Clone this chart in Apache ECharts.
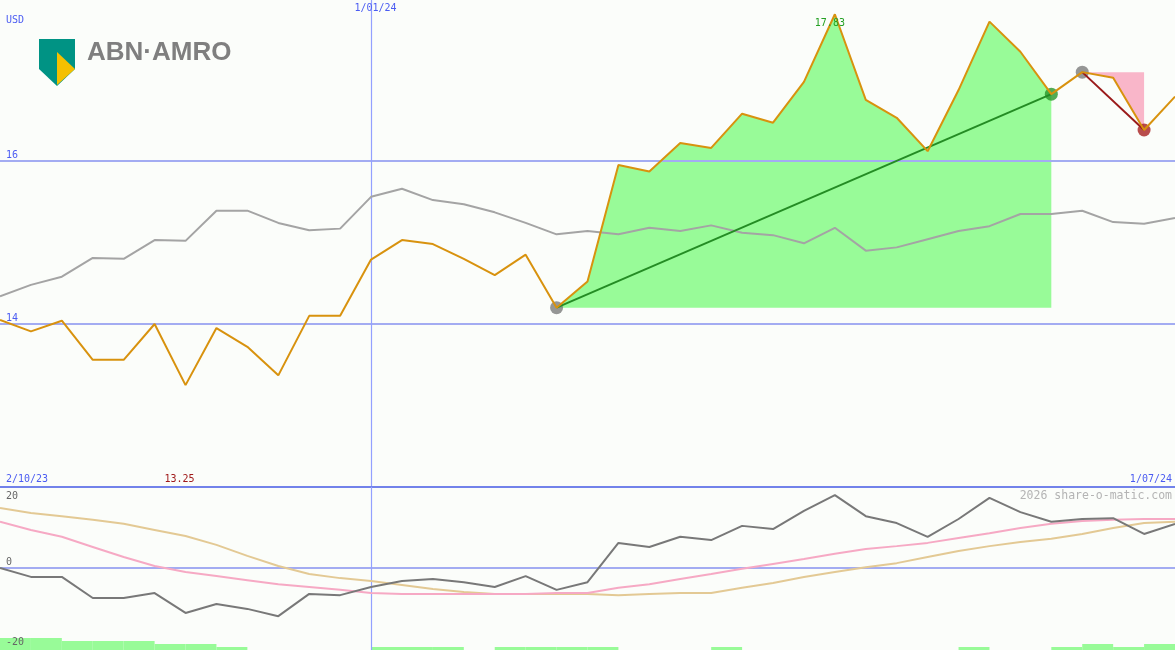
<!DOCTYPE html>
<html><head><meta charset="utf-8">
<script src="https://cdn.jsdelivr.net/npm/echarts@6.0.0/dist/echarts.min.js"></script>
<style>html,body{margin:0;padding:0;background:#fbfdfa}#c{width:1175px;height:650px}</style>
</head><body><div id="c"></div>
<script>
// ---- data (weekly points, index 0 = 2/10/23, last = 1/07/24) ----
const price = [14.05, 13.91, 14.04, 13.56, 13.56, 14.00, 13.25, 13.95, 13.72, 13.37,
  14.10, 14.10, 14.79, 15.03, 14.98, 14.80, 14.60, 14.85, 14.20, 14.52,
  15.95, 15.87, 16.22, 16.16, 16.58, 16.47, 16.97, 17.80, 16.75, 16.53,
  16.12, 16.87, 17.71, 17.34, 16.82, 17.09, 17.02, 16.38, 16.79];
const benchmark = [14.34, 14.48, 14.58, 14.81, 14.80, 15.03, 15.02, 15.39, 15.39, 15.24,
  15.15, 15.17, 15.56, 15.66, 15.52, 15.47, 15.37, 15.24, 15.10, 15.14,
  15.10, 15.18, 15.14, 15.21, 15.12, 15.09, 14.99, 15.18, 14.90, 14.94,
  15.04, 15.14, 15.20, 15.35, 15.35, 15.39, 15.25, 15.23, 15.30];
const momentum = [0, -2.2, -2.2, -7.4, -7.4, -6.2, -11.1, -8.9, -10.1, -11.9,
  -6.4, -6.7, -4.7, -3.2, -2.7, -3.5, -4.7, -2.0, -5.4, -3.5,
  6.2, 5.2, 7.7, 6.9, 10.4, 9.6, 14.1, 18.0, 12.8, 11.1,
  7.7, 12.1, 17.3, 13.8, 11.4, 12.1, 12.3, 8.4, 10.9];
const avgFast = [11.4, 9.4, 7.7, 5.2, 2.7, 0.5, -1.0, -2.0, -3.0, -4.0,
  -4.7, -5.4, -6.2, -6.4, -6.4, -6.4, -6.4, -6.4, -6.2, -6.2,
  -4.9, -4.0, -2.7, -1.5, -0.2, 1.0, 2.2, 3.5, 4.7, 5.4,
  6.2, 7.4, 8.6, 9.9, 10.9, 11.6, 11.9, 12.1, 12.1];
const avgSlow = [14.8, 13.6, 12.8, 11.9, 10.9, 9.4, 7.9, 5.7, 3.0, 0.5,
  -1.5, -2.5, -3.2, -4.2, -5.2, -5.9, -6.4, -6.4, -6.4, -6.4,
  -6.7, -6.4, -6.2, -6.2, -4.9, -3.7, -2.2, -1.0, 0.2, 1.2,
  2.7, 4.2, 5.4, 6.4, 7.2, 8.4, 9.9, 11.1, 11.4];
// one value per week interval (levels of the signal strip)
const signal = [4, 4, 3, 3, 3, 2, 2, 1, 0, 0, 0, 0, 1, 1, 1, 0, 1, 1, 1, 1,
  0, 0, 0, 1, 0, 0, 0, 0, 0, 0, 0, 1, 0, 0, 1, 2, 1, 2];
const dateLabels = ['2/10/23', '1/01/24', '1/07/24'];
const dateMarkIndex = 12;
const priceTicks = [14, 16];
const oscTicks = [20, 0, -20];
const gainRange = [18, 34];
const lossRange = [35, 37];
const highLabel = '17.83';
const lowLabel = '13.25';
const currency = 'USD';
const watermark = '2026 share-o-matic.com';

// ---- build ----
const N = price.length;
const pts = arr => arr.map((v, i) => [i, v]);
const slicePts = (arr, a, b) => arr.slice(a, b + 1).map((v, k) => [a + k, v]);
const highIdx = price.indexOf(Math.max(...price));
const lowIdx = price.indexOf(Math.min(...price));

const chart = echarts.init(document.getElementById('c'), null, {renderer: 'canvas'});
const blue = '#a3acf2';
const vBlue = '#93a0ff';
const option = {
  animation: false,
  backgroundColor: '#fbfdfa',
  grid: [
    {left: 0, right: 0, top: 0, height: 487},
    {left: 0, right: 0, top: 487, height: 163},
    {left: 0, right: 0, top: 487, height: 163}
  ],
  xAxis: [
    {type: 'value', gridIndex: 0, min: 0, max: N - 1, show: false},
    {type: 'value', gridIndex: 1, min: 0, max: N - 1, show: false},
    {type: 'category', gridIndex: 2, data: signal.map((_, i) => i), show: false, boundaryGap: true}
  ],
  yAxis: [
    {type: 'value', gridIndex: 0, min: 12, max: 17.975, show: false},
    {type: 'value', gridIndex: 1, min: -20.25, max: 20, show: false},
    {type: 'value', gridIndex: 2, min: 0, max: 54.33, show: false}
  ],
  series: [
    {type: 'bar', xAxisIndex: 2, yAxisIndex: 2, data: signal, barCategoryGap: '0%',
      itemStyle: {color: '#98fb98'}, silent: true, z: 1},
    {type: 'line', xAxisIndex: 0, yAxisIndex: 0, data: [], z: 2,
      markLine: {silent: true, symbol: 'none', label: {show: false},
        lineStyle: {color: blue, width: 2, type: 'solid'},
        data: priceTicks.map(t => ({yAxis: t}))}},
    {type: 'line', xAxisIndex: 0, yAxisIndex: 0, data: [], z: 2,
      markLine: {silent: true, symbol: 'none', label: {show: false},
        lineStyle: {color: vBlue, width: 1.2, type: 'solid'},
        data: [{xAxis: dateMarkIndex}]}},
    {type: 'line', xAxisIndex: 1, yAxisIndex: 1, data: [], z: 2,
      markLine: {silent: true, symbol: 'none', label: {show: false},
        lineStyle: {color: blue, width: 2, type: 'solid'},
        data: [{yAxis: oscTicks[1]}]}},
    {type: 'line', xAxisIndex: 1, yAxisIndex: 1, data: [], z: 2,
      markLine: {silent: true, symbol: 'none', label: {show: false},
        lineStyle: {color: '#7282ea', width: 2, type: 'solid'},
        data: [{yAxis: oscTicks[0]}]}},
    {type: 'line', xAxisIndex: 1, yAxisIndex: 1, data: [], z: 2,
      markLine: {silent: true, symbol: 'none', label: {show: false},
        lineStyle: {color: vBlue, width: 1.2, type: 'solid'},
        data: [{xAxis: dateMarkIndex}]}},
    {type: 'line', xAxisIndex: 0, yAxisIndex: 0, data: slicePts(price, gainRange[0], gainRange[1]),
      symbol: 'none', lineStyle: {width: 0}, z: 3,
      areaStyle: {color: '#98fb98', opacity: 1, origin: price[gainRange[0]]}},
    {type: 'line', xAxisIndex: 0, yAxisIndex: 0, data: slicePts(price, lossRange[0], lossRange[1]),
      symbol: 'none', lineStyle: {width: 0}, z: 3,
      areaStyle: {color: '#f9b6c9', opacity: 1, origin: price[lossRange[0]]}},
    {type: 'scatter', xAxisIndex: 0, yAxisIndex: 0, symbolSize: 13, z: 4,
      data: [
        {value: [gainRange[0], price[gainRange[0]]], itemStyle: {color: '#7c7c7c'}},
        {value: [gainRange[1], price[gainRange[1]]], itemStyle: {color: '#2a962a'}},
        {value: [lossRange[0], price[lossRange[0]]], itemStyle: {color: '#7c7c7c'}},
        {value: [lossRange[1], price[lossRange[1]]], itemStyle: {color: '#a82020'}}
      ]},
    {type: 'line', xAxisIndex: 0, yAxisIndex: 0, data: pts(benchmark), symbol: 'none', z: 5,
      lineStyle: {color: '#a4a4a4', width: 2}},
    {type: 'line', xAxisIndex: 0, yAxisIndex: 0, z: 6, symbol: 'none',
      data: [[gainRange[0], price[gainRange[0]]], [gainRange[1], price[gainRange[1]]]],
      lineStyle: {color: '#248c24', width: 2}},
    {type: 'line', xAxisIndex: 0, yAxisIndex: 0, z: 6, symbol: 'none',
      data: [[lossRange[0], price[lossRange[0]]], [lossRange[1], price[lossRange[1]]]],
      lineStyle: {color: '#9a1a1a', width: 2}},
    {type: 'line', xAxisIndex: 0, yAxisIndex: 0, data: pts(price), symbol: 'none', z: 7,
      lineStyle: {color: '#d8920e', width: 2}},
    {type: 'line', xAxisIndex: 1, yAxisIndex: 1, data: pts(avgSlow), symbol: 'none', z: 5,
      lineStyle: {color: '#e3c994', width: 2}},
    {type: 'line', xAxisIndex: 1, yAxisIndex: 1, data: pts(avgFast), symbol: 'none', z: 5,
      lineStyle: {color: '#f6a9c4', width: 2}},
    {type: 'line', xAxisIndex: 1, yAxisIndex: 1, data: pts(momentum), symbol: 'none', z: 6,
      lineStyle: {color: '#787878', width: 2}}
  ]
};
chart.setOption(option);

// ---- texts placed through the scales ----
const P0 = (x, y) => chart.convertToPixel({gridIndex: 0}, [x, y]);
const P1 = (x, y) => chart.convertToPixel({gridIndex: 1}, [x, y]);
const mono = '"DejaVu Sans Mono", monospace';
const txt = (x, y, text, color, align, size) => ({
  type: 'text', x: x, y: y, silent: true, z: 100,
  style: {text: text, fill: color, font: (size || 10) + 'px ' + mono, align: align || 'left', verticalAlign: 'middle'}
});
const tBlue = '#4b5cf2';
const bottomY = P0(0, 12)[1];
const g = [];
g.push(txt(6, 20.5, currency, tBlue));
priceTicks.forEach(t => g.push(txt(6, P0(0, t)[1] - 6, String(t), tBlue)));
g.push(txt(P0(dateMarkIndex, 0)[0] + 4.5, 8.5, dateLabels[1], tBlue, 'center'));
g.push(txt(P0(highIdx, 0)[0] - 5, P0(0, price[highIdx])[1] + 9, highLabel, '#23a023', 'center'));
g.push(txt(6, bottomY - 8, dateLabels[0], tBlue));
g.push(txt(P0(lowIdx, 0)[0] - 6, bottomY - 8, lowLabel, '#a01a1a', 'center'));
g.push(txt(1172, bottomY - 8, dateLabels[2], tBlue, 'right'));
g.push(txt(1172, P1(0, oscTicks[0])[1] + 9.5, watermark, '#b4b4b4', 'right', 11.5));
g.push(txt(6, P1(0, oscTicks[0])[1] + 9.5, String(oscTicks[0]), '#666666'));
g.push(txt(6, P1(0, oscTicks[1])[1] - 5.5, String(oscTicks[1]), '#666666'));
g.push(txt(6, P1(0, oscTicks[2])[1] - 7, String(oscTicks[2]), '#666666'));
// logo
g.push({type: 'polygon', silent: true, z: 100, shape: {points: [[39, 39], [75, 39], [75, 69], [57, 86], [39, 69]]}, style: {fill: '#009384'}});
g.push({type: 'polygon', silent: true, z: 101, shape: {points: [[57, 52], [75, 69], [57, 85]]}, style: {fill: '#f4c000'}});
g.push({type: 'text', x: 87, y: 52.5, silent: true, z: 100,
  style: {text: 'ABN·AMRO', fill: '#7f7f7f', font: 'bold 26px "Liberation Sans", Arial, sans-serif', verticalAlign: 'middle'}});
chart.setOption({graphic: g});
</script></body></html>
